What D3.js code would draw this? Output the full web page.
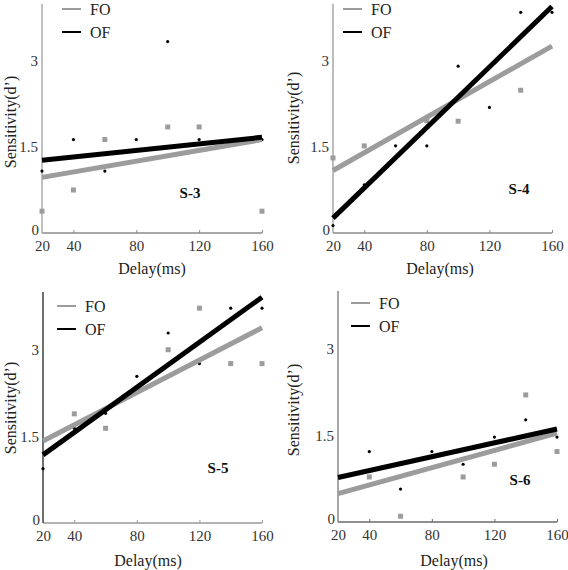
<!DOCTYPE html>
<html><head><meta charset="utf-8">
<script src="https://cdn.jsdelivr.net/npm/d3@7"></script>
<style>
html,body{margin:0;padding:0;background:#fff;}
svg{display:block;}
svg text{font-family:'Liberation Serif','Times New Roman',serif;}
</style></head>
<body>
<svg id="chart" width="568" height="570"></svg>
<script>
// ---------- data ----------
const delays = [20, 40, 60, 80, 100, 120, 140, 160];
const xTicks = [20, 40, 80, 120, 160];
const yTicks = [0, 1.5, 3];
const yTickLabels = ["0", "1.5", "3"];
const seriesNames = ["FO", "OF"];
const subjects = ["S-3", "S-4", "S-5", "S-6"];
const fitX = [20, 160];

// S-3
const s3FO = [0.38, 0.75, 1.63, null, 1.85, 1.85, null, 0.38];
const s3OF = [1.08, 1.63, 1.08, 1.63, 3.34, 1.63, 1.58, 1.63];
const s3FitFO = [0.97, 1.63];
const s3FitOF = [1.27, 1.67];
// S-4
const s4FO = [1.31, 1.52, null, 1.96, 1.95, null, 2.49, null];
const s4OF = [0.13, 0.84, 1.52, 1.52, 2.91, 2.19, 3.85, 3.85];
const s4FitFO = [1.09, 3.26];
const s4FitOF = [0.26, 3.95];
// S-5
const s5FO = [null, 1.89, 1.64, null, 3.0, 3.72, 2.76, 2.76];
const s5OF = [0.94, 1.64, 1.90, 2.54, 3.29, 2.76, 3.72, 3.72];
const s5FitFO = [1.42, 3.38];
const s5FitOF = [1.18, 3.91];
// S-6
const s6FO = [null, 0.78, 0.10, null, 0.78, 1.0, 2.2, 1.22];
const s6OF = [null, 1.22, 0.57, 1.22, 1.0, 1.47, 1.77, 1.47];
const s6FitFO = [0.49, 1.54];
const s6FitOF = [0.77, 1.61];

const panelData = [
  {fo: s3FO, of: s3OF, fitFO: s3FitFO, fitOF: s3FitOF},
  {fo: s4FO, of: s4OF, fitFO: s4FitFO, fitOF: s4FitOF},
  {fo: s5FO, of: s5OF, fitFO: s5FitFO, fitOF: s5FitOF},
  {fo: s6FO, of: s6OF, fitFO: s6FitFO, fitOF: s6FitOF}
];

// ---------- layout ----------
const FONT = "'Liberation Serif', 'Times New Roman', serif";
const layout = [
  {x0: 42, x1: 262, y0: 233, yAxisColor: "#a0a0a0", xAxisColor: "#8a8a8a",
   legX: 62, legY: 9, tagX: 190, tagY: 193, yTitleX: 10, yTitleY: 122, xTitleX: 152, xTitleY: 268},
  {x0: 333, x1: 552, y0: 233, yAxisColor: "#9a9a9a", xAxisColor: "#8a8a8a",
   legX: 343, legY: 9, tagX: 519, tagY: 189, yTitleX: 293, yTitleY: 118, xTitleX: 440, xTitleY: 268},
  {x0: 43, x1: 262, y0: 523, yAxisColor: "#222", xAxisColor: "#9a9a9a",
   legX: 57, legY: 306, tagX: 218, tagY: 468, yTitleX: 10, yTitleY: 408, xTitleX: 148, xTitleY: 560},
  {x0: 338, x1: 557, y0: 522, yAxisColor: "#777", xAxisColor: "#6a6a6a",
   legX: 351, legY: 303, tagX: 520, tagY: 480, yTitleX: 293, yTitleY: 410, xTitleX: 454, xTitleY: 560}
];

const svg = d3.select("#chart");
const grayC = "#9c9c9c";

layout.forEach((L, i) => {
  const D = panelData[i];
  const x = d3.scaleLinear().domain([20, 160]).range([L.x0, L.x1]);
  const y = d3.scaleLinear().domain([0, 4]).range([L.y0, L.y0 - (L.y0 === 233 ? 229.3 : 231)]);
  const g = svg.append("g");

  // x axis
  const xa = g.append("g").attr("transform", `translate(0,${L.y0})`)
    .call(d3.axisBottom(x).tickValues(xTicks).tickSize(-3).tickPadding(7).tickFormat(d3.format("d")));
  xa.attr("font-family", null);
  xa.select(".domain").attr("stroke", L.xAxisColor).attr("stroke-width", 1.3).attr("d", `M${L.x0},0H${L.x1}`);
  xa.selectAll(".tick line").attr("stroke", L.xAxisColor);
  xa.selectAll(".tick text").attr("fill", "#333").attr("font-size", 15);
  xa.selectAll(".tick").filter(d => d === 20).select("line").remove();

  // y axis
  const ya = g.append("g").attr("transform", `translate(${L.x0},0)`)
    .call(d3.axisLeft(y).tickValues(yTicks).tickSize(0).tickPadding(4)
      .tickFormat((d, k) => yTickLabels[k]));
  ya.attr("font-family", null);
  ya.select(".domain").attr("stroke", L.yAxisColor).attr("stroke-width", 1.3)
    .attr("d", `M0,${L.y0}V${y(4)}`);
  ya.selectAll(".tick text").attr("fill", "#333").attr("font-size", 15);
  ya.selectAll(".tick").filter(d => d === 0).select("text").attr("dy", "0.1em").attr("x", -3);

  // points
  const foPts = delays.map((d, k) => [d, D.fo[k]]).filter(p => p[1] !== null);
  const ofPts = delays.map((d, k) => [d, D.of[k]]).filter(p => p[1] !== null);
  g.selectAll("rect.fo").data(foPts).enter().append("rect")
    .attr("x", p => x(p[0]) - 2.5).attr("y", p => y(p[1]) - 2.5)
    .attr("width", 5).attr("height", 5).attr("fill", grayC);
  g.selectAll("circle.of").data(ofPts).enter().append("circle")
    .attr("cx", p => x(p[0])).attr("cy", p => y(p[1])).attr("r", 1.6).attr("fill", "#000");

  // fit lines
  const line = d3.line().x(p => x(p[0])).y(p => y(p[1]));
  g.append("path").attr("d", line(fitX.map((d, k) => [d, D.fitFO[k]])))
    .attr("stroke", grayC).attr("stroke-width", 5).attr("fill", "none");
  g.append("path").attr("d", line(fitX.map((d, k) => [d, D.fitOF[k]])))
    .attr("stroke", "#000").attr("stroke-width", 5).attr("fill", "none");

  // legend
  seriesNames.forEach((name, k) => {
    const ly = L.legY + k * 23;
    g.append("line").attr("x1", L.legX).attr("x2", L.legX + 19).attr("y1", ly).attr("y2", ly)
      .attr("stroke", k === 0 ? grayC : "#000").attr("stroke-width", 2);
    g.append("text").attr("x", L.legX + 28).attr("y", ly).attr("dy", "0.35em")
      .attr("font-size", 16).attr("fill", "#222").text(name);
  });

  // subject tag
  g.append("text").attr("x", L.tagX).attr("y", L.tagY).attr("dy", "0.35em")
    .attr("text-anchor", "middle").attr("font-size", 15)
    .attr("font-weight", "bold").attr("fill", "#111").text(subjects[i]);

  // axis titles
  g.append("text").attr("x", L.xTitleX).attr("y", L.xTitleY).attr("dy", "0.35em")
    .attr("text-anchor", "middle").attr("font-size", 16)
    .attr("fill", "#222").text("Delay(ms)");
  g.append("text").attr("transform", `translate(${L.yTitleX},${L.yTitleY}) rotate(-90)`)
    .attr("dy", "0.35em").attr("text-anchor", "middle")
    .attr("font-size", 16).attr("fill", "#222").text("Sensitivity(d’)");
});
</script>
</body></html>
